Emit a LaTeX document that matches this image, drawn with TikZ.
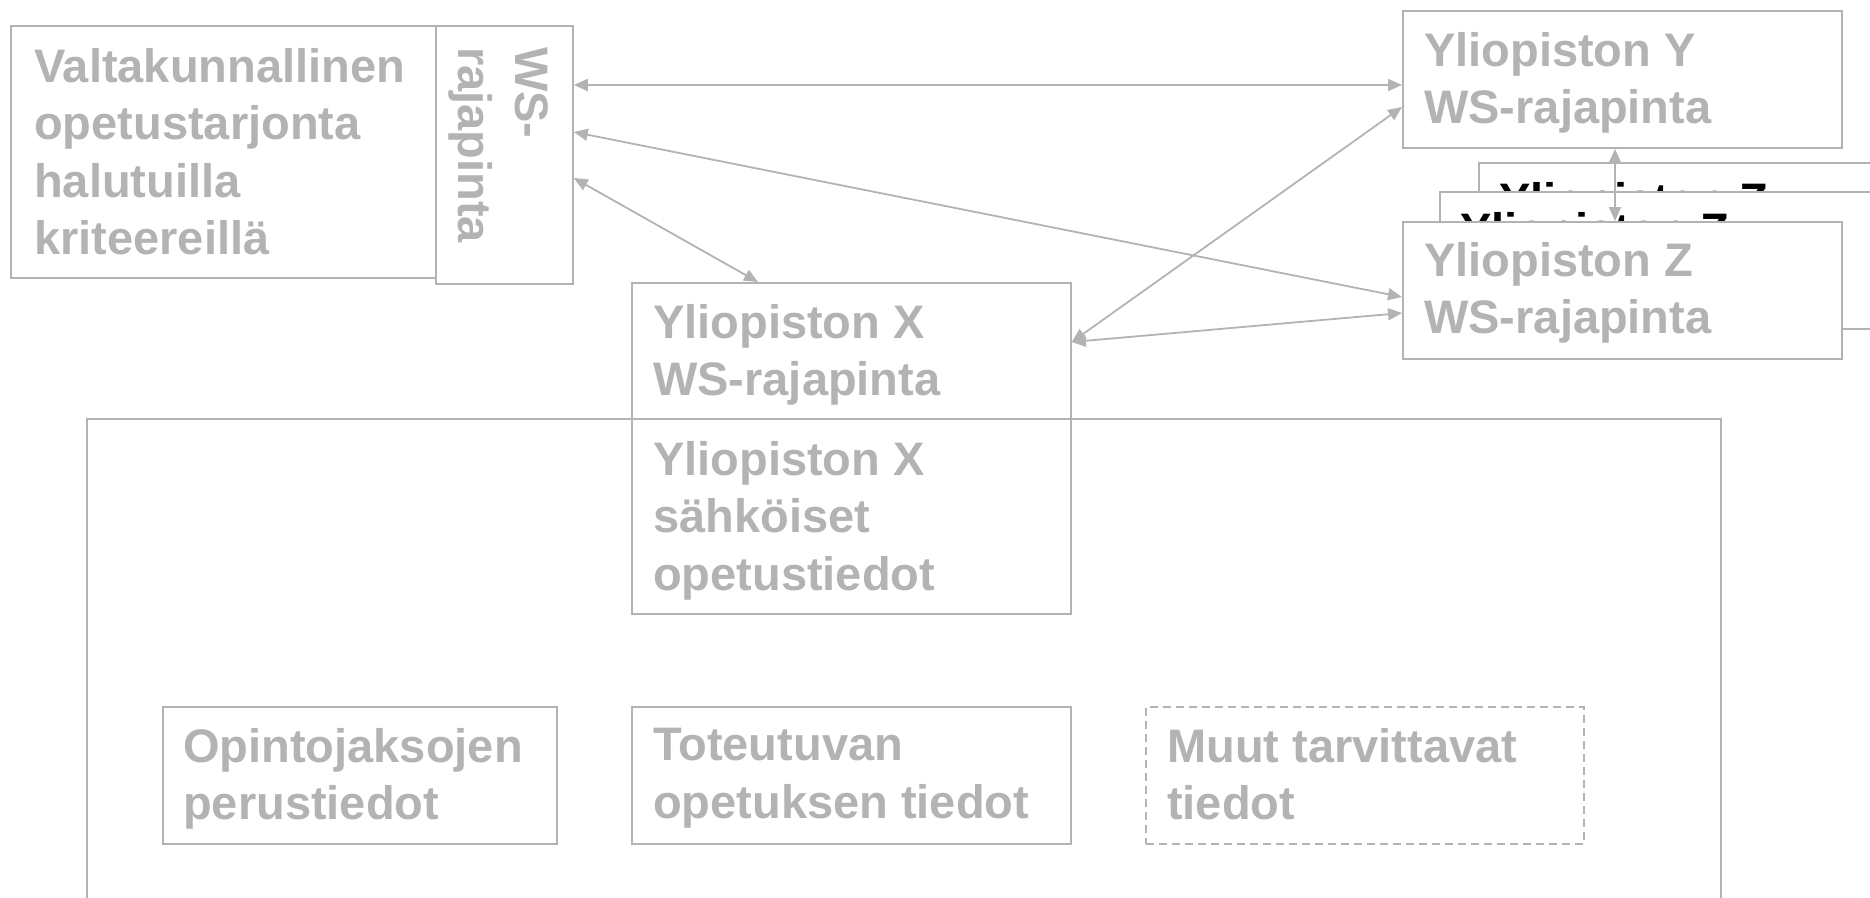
\documentclass[tikz,border=0pt]{standalone}
\usepackage{fontspec}
\setmainfont{Liberation Sans}
\usetikzlibrary{arrows.meta}
\definecolor{linegray}{HTML}{B3B3B3}
\begin{document}
\begin{tikzpicture}[x=1pt,y=-1pt,
  box/.style={draw=linegray, line width=1.8pt, fill=white, rectangle, inner sep=0pt, anchor=north west},
  dashedbox/.style={box, dash pattern=on 8pt off 5pt},
  txt/.style={text=linegray, font=\bfseries\fontsize{47}{57.5}\selectfont, align=left, inner sep=0pt, anchor=north west},
  backtxt/.style={txt, text=black},
  link/.style={draw=linegray, line width=1.8pt, {Triangle[length=14pt,width=12pt]}-{Triangle[length=14pt,width=12pt]}}
]
\useasboundingbox (0,0) rectangle (1870,897);
\clip (0,0) rectangle (1870,897);

% national course offering and its WS interface
\node[box, minimum width=425pt, minimum height=252pt] (valta) at (10,25) {};
\node[txt] (valtatext) at ([shift={(24pt,-23pt)}]valta.north west)
  {Valtakunnallinen\\opetustarjonta\\halutuilla\\kriteereill\"a};
\node[box, minimum width=137pt, minimum height=258pt] (ws) at (435,25) {};
\node[txt, rotate=-90] (wstext) at (549,47) {WS-\\rajapinta};

% university X, data area
\node[box, minimum width=1634pt, minimum height=520pt] (outer) at (86,418) {};
\node[box, minimum width=439pt, minimum height=136pt] (xws) at (631,282) {};
\node[txt] (xwstext) at ([shift={(22pt,-22pt)}]xws.north west) {Yliopiston X\\WS-rajapinta};
\node[box, minimum width=439pt, minimum height=195pt] (xdata) at (631,418) {};
\node[txt] (xdatatext) at ([shift={(22pt,-23pt)}]xdata.north west) {Yliopiston X\\s\"ahk\"oiset\\opetustiedot};

\node[box, minimum width=394pt, minimum height=137pt] (opinto) at (162,706) {};
\node[txt] (opintotext) at ([shift={(21pt,-22pt)}]opinto.north west) {Opintojaksojen\\perustiedot};
\node[box, minimum width=439pt, minimum height=137pt] (tot) at (631,706) {};
\node[txt] (tottext) at ([shift={(22pt,-22pt)}]tot.north west) {Toteutuvan\\opetuksen tiedot};
\node[dashedbox, minimum width=438pt, minimum height=137pt] (muut) at (1145,706) {};
\node[txt] (muuttext) at ([shift={(22pt,-22pt)}]muut.north west) {Muut tarvittavat\\tiedot};

% universities Y and Z, with a stack of further interfaces behind Z
\node[box, minimum width=439pt, minimum height=137pt] (y) at (1402,10) {};
\node[txt] (ytext) at ([shift={(22pt,-22pt)}]y.north west) {Yliopiston Y\\WS-rajapinta};
\node[box, minimum width=439pt, minimum height=137pt] (back1) at (1478,162) {};
\node[backtxt] (back1text) at ([shift={(21pt,-20pt)}]back1.north west) {Yliopiston Z\\WS-rajapinta};
\node[box, minimum width=439pt, minimum height=137pt] (back2) at (1439,191) {};
\node[backtxt] (back2text) at ([shift={(21pt,-21pt)}]back2.north west) {Yliopiston Z\\WS-rajapinta};
\node[box, minimum width=439pt, minimum height=137pt] (z) at (1402,221) {};
\node[txt] (ztext) at ([shift={(22pt,-21pt)}]z.north west) {Yliopiston Z\\WS-rajapinta};

% connectors
\draw[link] ([yshift=-60pt]ws.north east) -- ([yshift=-75pt]y.north west);
\draw[link] ([yshift=-107pt]ws.north east) -- ([yshift=-76pt]z.north west);
\draw[link] ([yshift=-153pt]ws.north east) -- ([xshift=127pt]xws.north west);
\draw[link] ([yshift=-60pt]xws.north east) -- ([yshift=-97pt]y.north west);
\draw[link] ([yshift=-60pt]xws.north east) -- ([yshift=-92pt]z.north west);
\draw[link] ([xshift=213pt]y.south west) -- ([xshift=213pt]z.north west);
\end{tikzpicture}
\end{document}
